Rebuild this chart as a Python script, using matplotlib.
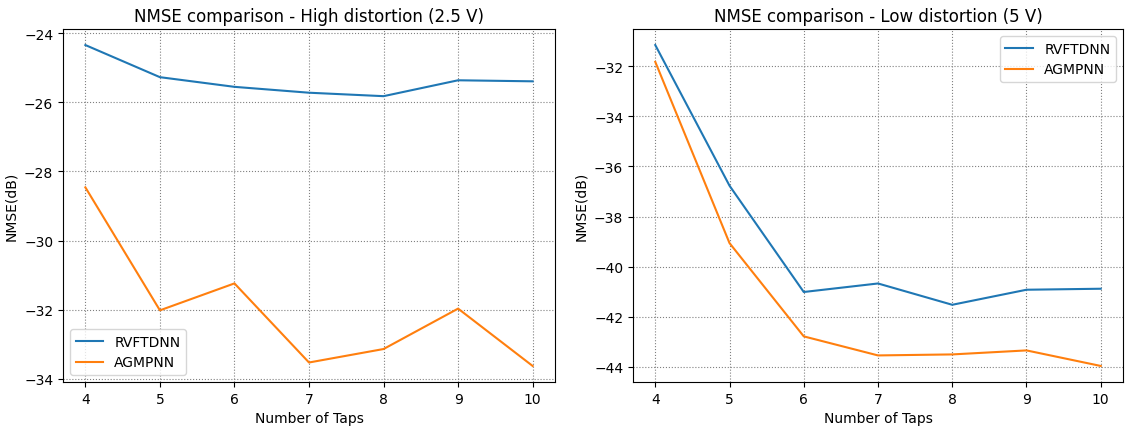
import matplotlib
matplotlib.use("Agg")
import matplotlib.pyplot as plt

taps = [4, 5, 6, 7, 8, 9, 10]
high_rvftdnn = [-24.34, -25.27, -25.55, -25.72, -25.82, -25.36, -25.39]
high_agmpnn = [-28.46, -32.02, -31.24, -33.53, -33.14, -31.97, -33.63]
low_rvftdnn = [-31.16, -36.77, -41.01, -40.67, -41.52, -40.92, -40.88]
low_agmpnn = [-31.83, -39.06, -42.78, -43.54, -43.50, -43.34, -43.96]

fig = plt.figure(figsize=(11.34, 4.31), dpi=100)
W, H = 1134, 431
ax1 = fig.add_axes([63 / W, 1 - 383 / H, (555 - 63) / W, (383 - 30) / H])
ax2 = fig.add_axes([633 / W, 1 - 383 / H, (1123 - 633) / W, (383 - 30) / H])

for ax, r, a, title, loc in [
    (ax1, high_rvftdnn, high_agmpnn, "NMSE comparison - High distortion (2.5 V)", "lower left"),
    (ax2, low_rvftdnn, low_agmpnn, "NMSE comparison - Low distortion (5 V)", "upper right"),
]:
    ax.plot(taps, r, color="#1f77b4", label="RVFTDNN")
    ax.plot(taps, a, color="#ff7f0e", label="AGMPNN")
    ax.set_title(title, fontsize=12)
    ax.set_xlabel("Number of Taps")
    ax.set_ylabel("NMSE(dB)")
    ax.grid(True, linestyle=":", color="gray")
    ax.legend(loc=loc)

fig.savefig("out.png", dpi=100)
